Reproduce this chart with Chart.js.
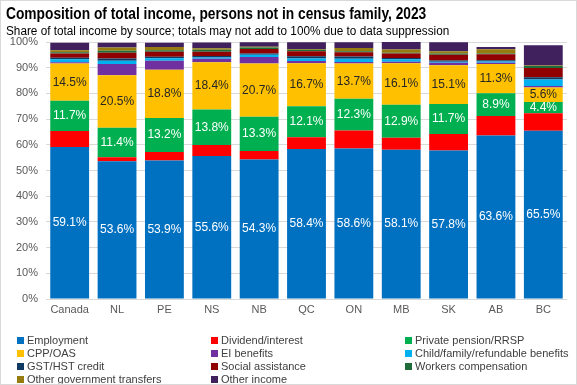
<!DOCTYPE html>
<html><head><meta charset="utf-8">
<script src="https://cdn.jsdelivr.net/npm/chart.js@4/dist/chart.umd.min.js"></script>
<style>
html,body{margin:0;padding:0;background:#fff;}
#wrap{position:relative;width:577px;height:385px;box-sizing:border-box;border:1px solid #d9d9d9;overflow:hidden;font-family:"Liberation Sans",Arial,sans-serif;}
#c{position:absolute;left:0;top:0;}
#title{position:absolute;left:5px;top:4px;font-size:16px;font-weight:bold;color:#000;white-space:nowrap;transform:scaleX(0.86);transform-origin:0 0;}
#sub{position:absolute;left:5px;top:23px;font-size:12px;color:#000;white-space:nowrap;transform:scaleX(0.98);transform-origin:0 0;}
#legend{position:absolute;left:0;top:0;width:577px;height:385px;pointer-events:none;}
.li{position:absolute;font-size:11px;color:#404040;white-space:nowrap;line-height:13px;}
.li span{display:inline-block;width:7px;height:7px;margin-right:3px;vertical-align:0px;}
</style></head>
<body>
<div id="wrap">
<canvas id="c" width="577" height="385"></canvas>
<div id="title">Composition of total income, persons not in census family, 2023</div>
<div id="sub">Share of total income by source; totals may not add to 100% due to data suppression</div>
<div id="legend"></div>
</div>
<script>
const categories = ['Canada','NL','PE','NS','NB','QC','ON','MB','SK','AB','BC'];
const employment  = [59.1,53.6,53.9,55.6,54.3,58.4,58.6,58.1,57.8,63.6,65.5];
const dividend    = [6.3,1.6,3.3,4.3,3.3,4.5,7.0,4.6,6.4,7.6,6.8];
const pension     = [11.7,11.4,13.2,13.8,13.3,12.1,12.3,12.9,11.7,8.9,4.4];
const cppOas      = [14.5,20.5,18.8,18.4,20.7,16.7,13.7,16.1,15.1,11.3,5.6];
const eiBenefits  = [0.5,4.3,3.5,1.4,2.6,0.9,0.6,0.6,0.9,0.5,0.6];
const childFamily = [1.2,1.3,1.0,0.5,0.8,1.0,1.3,1.0,0.4,0.5,2.5];
const gstHst      = [0.6,0.9,0.6,0.6,0.5,0.9,0.9,0.5,0.5,0.5,0.9];
const socialAssist= [1.6,2.2,1.9,1.6,1.8,1.9,1.6,1.7,2.2,2.3,3.6];
const workersComp = [0.5,0.8,0.6,0.8,0.6,0.6,0.4,0.3,0.5,0.3,0.8];
const otherGov    = [0.8,1.3,1.3,0.6,0.3,0.3,1.3,1.3,0.9,1.7,0.2];
const otherIncome = [2.9,1.8,1.6,2.2,1.7,2.6,2.2,2.9,3.5,0.9,7.8];
const yTicks = [0,10,20,30,40,50,60,70,80,90,100];

const seriesNames = ['Employment','Dividend/interest','Private pension/RRSP','CPP/OAS','EI benefits','Child/family/refundable benefits','GST/HST credit','Social assistance','Workers compensation','Other government transfers','Other income'];
const seriesData = [employment,dividend,pension,cppOas,eiBenefits,childFamily,gstHst,socialAssist,workersComp,otherGov,otherIncome];
const seriesColors = ['#0070C0','#FF0000','#00B050','#FFC000','#7030A0','#00B0F0','#0E3A63','#900000','#1F6B3A','#967B0E','#40215E'];
const labelColors = {0:'#ffffff',2:'#ffffff',3:'#262626'};

const FONT = '"Liberation Sans",Arial,sans-serif';

const datasets = seriesNames.map((n,i)=>({
  label:n, data:seriesData[i], backgroundColor:seriesColors[i], borderWidth:0,
  barPercentage:0.82, categoryPercentage:1.0
}));

const labelPlugin = {
  id:'segLabels',
  afterDatasetsDraw(chart){
    const ctx = chart.ctx;
    ctx.save();
    ctx.font = '12px ' + FONT;
    ctx.textAlign='center'; ctx.textBaseline='middle';
    Object.keys(labelColors).forEach(k=>{
      const i = +k;
      const meta = chart.getDatasetMeta(i);
      ctx.fillStyle = labelColors[i];
      meta.data.forEach((bar,j)=>{
        const p = bar.getProps(['x','y','base'],true);
        ctx.fillText(seriesData[i][j].toFixed(1)+'%', p.x, (p.y+p.base)/2);
      });
    });
    ctx.restore();
  }
};

new Chart(document.getElementById('c'),{
  type:'bar',
  data:{labels:categories,datasets},
  options:{
    responsive:false, animation:false, devicePixelRatio:1,
    layout:{padding:{top:41,right:11,left:0,bottom:0}},
    plugins:{legend:{display:false},tooltip:{enabled:false},title:{display:false}},
    scales:{
      x:{stacked:true,
         grid:{display:false,drawTicks:false},
         border:{display:false},
         ticks:{color:'#595959',font:{family:FONT,size:11},padding:4,maxRotation:0},
         afterFit(s){s.height=87;}
      },
      y:{stacked:true,min:0,max:100,
         afterBuildTicks(s){s.ticks=yTicks.map(v=>({value:v}));},
         grid:{color:'#d9d9d9',drawTicks:false,lineWidth:1},
         border:{display:false},
         ticks:{color:'#595959',font:{family:FONT,size:11},padding:8,callback:v=>v+'%'},
         afterFit(s){s.width=45;}
      }
    }
  },
  plugins:[labelPlugin]
});

// HTML legend built from series arrays
const lg = document.getElementById('legend');
const colX = [16,210,404], rowY = [333,346,359,372];
seriesNames.forEach((n,i)=>{
  const d = document.createElement('div');
  d.className='li';
  d.style.left = colX[i%3]+'px';
  d.style.top = rowY[Math.floor(i/3)]+'px';
  d.innerHTML = '<span style="background:'+seriesColors[i]+'"></span>'+n;
  lg.appendChild(d);
});
</script>
</body></html>
